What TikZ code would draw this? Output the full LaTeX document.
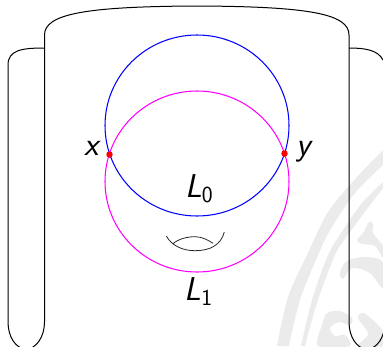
\documentclass[tikz,border=0pt]{standalone}
\usepackage{fontspec}
\definecolor{wm}{HTML}{EBEBEB}
\definecolor{puremag}{RGB}{255,0,255}
\definecolor{pureblue}{RGB}{0,0,255}
\tikzset{
  outline/.style={draw=black,line width=1pt},
  loopa/.style={draw=pureblue,line width=1.05pt},
  loopb/.style={draw=puremag,line width=1.05pt},
  handle/.style={draw=black!85,line width=0.8pt},
  mark dot/.style={circle,fill=red,inner sep=0pt,minimum size=6.5pt},
  wmark/.style={fill=wm,draw=none},
  lab/.style={inner sep=0pt,anchor=base west,font=\fontsize{33}{33}\selectfont\sffamily\itshape},
}
\newcommand{\subnum}[1]{\raisebox{-5pt}{\fontsize{23}{23}\selectfont\upshape #1}}
\begin{document}
\begin{tikzpicture}[x=1pt,y=-1pt]
\useasboundingbox (0,0) rectangle (383,346);
\clip (0,0) rectangle (383,346);
% watermark
\fill[wmark] plot[smooth] coordinates {(277,346) (288,297) (307,255) (328,212) (357,177) (383,150)}
  -- plot[smooth] coordinates {(383,165) (355,193) (332,227) (318,255) (300,300) (289,346)} -- cycle;
\fill[wmark] plot[smooth] coordinates {(301,346) (312,300) (328,255) (343,230) (362,203) (383,182)}
  -- plot[smooth] coordinates {(383,188) (350,232) (335,255) (317,303) (305,346)} -- cycle;
\fill[wmark] plot[smooth cycle] coordinates {(357,240) (363,233) (369,222) (373,224) (373,233) (383,246) (383,258) (375,246) (362,244)};
\fill[wmark] plot[smooth cycle] coordinates {(340,272) (347,261) (365,257) (383,262) (383,288) (370,273) (352,268) (343,279)};
\fill[wmark] plot[smooth cycle] coordinates {(318,346) (322,325) (327,313) (340,311) (352,318) (350,325) (339,322) (330,328) (335,336) (345,335) (350,346)};
\fill[wmark] plot[smooth cycle] coordinates {(358,346) (368,334) (358,318) (364,313) (378,325) (383,332) (383,346)};
% surfaces
\draw[outline] (44.5,322) -- (44.5,35) .. controls (44.5,14) and (85,6.5) .. (197,6)
  .. controls (310,6.5) and (349,14) .. (349,35) -- (349,322)
  .. controls (349,337) and (357,349) .. (367,349) .. controls (377,349) and (385,337) .. (385,322);
\draw[outline] (44.5,48) .. controls (22,48) and (8,50) .. (8,65) -- (8,322)
  .. controls (8,337) and (16,349) .. (26.2,349) .. controls (36,349) and (44.5,337) .. (44.5,322);
\draw[outline] (349,48) .. controls (365,48) and (378,50) .. (383,60);
\draw[loopa] (197,125.5) ellipse [x radius=92, y radius=90.5];
\draw[loopb] (197,181.5) ellipse [x radius=92, y radius=90.5];
\draw[handle] (166.3,236) .. controls (172,246) and (183,250.7) .. (195,250.7)
  .. controls (210,250.7) and (221,245) .. (224.3,232);
\draw[handle] (172.7,244) .. controls (178,239) and (187,236.7) .. (195,236.7)
  .. controls (202,236.7) and (208,240) .. (213,243.3);
\node[mark dot] (px) at (109.5,154.5) {};
\node[mark dot] (py) at (284.5,153.5) {};
\node[lab] (lx) at (84,155) {x};
\node[lab] (ly) at (296,155) {y};
\node[lab] (l0) at (185,197) {L\subnum{0}};
\node[lab] (l1) at (184.5,300) {L\subnum{1}};
\end{tikzpicture}
\end{document}
